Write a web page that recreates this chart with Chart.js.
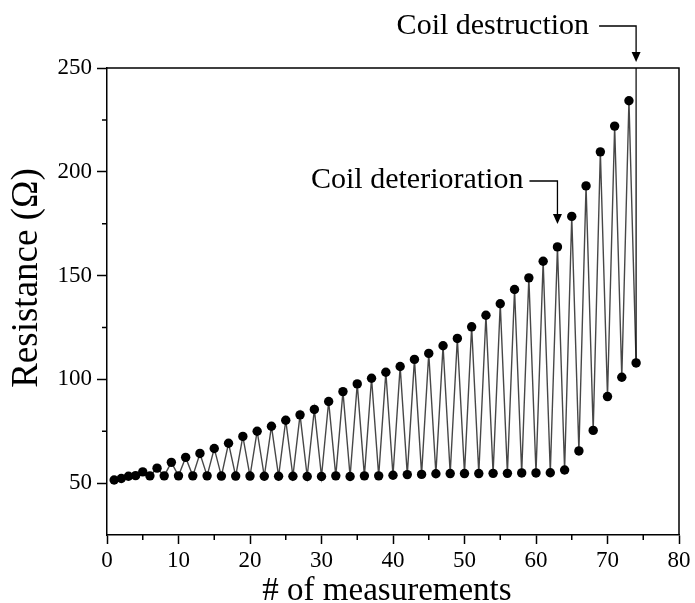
<!DOCTYPE html>
<html>
<head>
<meta charset="utf-8">
<script src="https://cdn.jsdelivr.net/npm/chart.js@4.4.0/dist/chart.umd.min.js"></script>
<style>
  html, body { margin: 0; padding: 0; background: #fff; }
  #wrap { width: 695px; height: 603px; }
</style>
</head>
<body>
<div id="wrap"><canvas id="resChart" width="695" height="603"></canvas></div>
<script>
const measurementNo = [
  1, 2, 3, 4, 5, 6, 7, 8, 9, 10, 11, 12, 13, 14, 15, 16, 17, 18, 19, 20,
  21, 22, 23, 24, 25, 26, 27, 28, 29, 30, 31, 32, 33, 34, 35, 36, 37, 38, 39, 40,
  41, 42, 43, 44, 45, 46, 47, 48, 49, 50, 51, 52, 53, 54, 55, 56, 57, 58, 59, 60,
  61, 62, 63, 64, 65, 66, 67, 68, 69, 70, 71, 72, 73, 74
];
const resistanceOhm = [
  51.5, 52.2, 53.3, 53.6, 55.4, 53.5, 57.2, 53.5, 60.0, 53.5,
  62.4, 53.5, 64.3, 53.5, 66.7, 53.4, 69.2, 53.4, 72.5, 53.4,
  75.0, 53.3, 77.4, 53.3, 80.3, 53.3, 82.9, 53.2, 85.5, 53.2,
  89.3, 53.5, 94.1, 53.2, 97.8, 53.5, 100.5, 53.5, 103.4, 53.8,
  106.2, 54.1, 109.6, 54.2, 112.5, 54.5, 116.2, 54.6, 119.7, 54.6,
  125.3, 54.6, 130.9, 54.7, 136.4, 54.7, 143.3, 54.9, 148.9, 54.9,
  156.9, 55.0, 163.8, 56.3, 178.5, 65.5, 193.2, 75.4, 209.6, 91.7,
  222.0, 101.0, 234.2, 107.9
];
// open circuit after destruction: trace leaves the top of the plot
const breakX = [74, 74];
const breakY = [107.9, 300];

const xTicks = [0, 10, 20, 30, 40, 50, 60, 70, 80];
const yTicks = [50, 100, 150, 200, 250];
const xMinor = [5, 15, 25, 35, 45, 55, 65, 75];
const yMinor = [75, 125, 175, 225];

const serif = "'Liberation Serif', 'Times New Roman', serif";

const figureExtras = {
  id: "figureExtras",
  afterDraw(chart) {
    const { ctx, chartArea: a, scales } = chart;
    const xs = scales.x, ys = scales.y;
    ctx.save();
    ctx.strokeStyle = "#000";
    ctx.fillStyle = "#000";
    ctx.lineWidth = 1.5;

    // frame top + right
    ctx.beginPath();
    ctx.moveTo(a.left, a.top);
    ctx.lineTo(a.right, a.top);
    ctx.lineTo(a.right, a.bottom);
    ctx.stroke();

    // minor ticks
    ctx.beginPath();
    xMinor.forEach(v => {
      const px = xs.getPixelForValue(v);
      ctx.moveTo(px, a.bottom);
      ctx.lineTo(px, a.bottom + 5);
    });
    yMinor.forEach(v => {
      const py = ys.getPixelForValue(v);
      ctx.moveTo(a.left, py);
      ctx.lineTo(a.left - 5, py);
    });
    ctx.stroke();

    // axis titles
    ctx.font = "33px " + serif;
    ctx.textAlign = "center";
    ctx.textBaseline = "alphabetic";
    ctx.fillText("# of measurements", (a.left + a.right) / 2 - 6, 600);

    ctx.save();
    ctx.translate(37, 278);
    ctx.rotate(-Math.PI / 2);
    ctx.font = "37px " + serif;
    ctx.fillText("Resistance (\u03A9)", 0, 0);
    ctx.restore();

    // annotations
    const arrow = (ax, lineY, tipY, textRight, baseY, label, gap) => {
      ctx.font = "30px " + serif;
      ctx.textAlign = "right";
      ctx.fillText(label, textRight, baseY);
      ctx.lineWidth = 1.3;
      ctx.beginPath();
      ctx.moveTo(textRight + gap, lineY);
      ctx.lineTo(ax, lineY);
      ctx.lineTo(ax, tipY - 9);
      ctx.stroke();
      ctx.beginPath();
      ctx.moveTo(ax - 4.5, tipY - 10);
      ctx.lineTo(ax + 4.5, tipY - 10);
      ctx.lineTo(ax, tipY);
      ctx.closePath();
      ctx.fill();
    };
    const dx = xs.getPixelForValue(74);
    arrow(dx, 26, 62, dx - 47, 34, "Coil destruction", 10);
    const tx = xs.getPixelForValue(63);
    arrow(tx, 181, 224, tx - 34, 188, "Coil deterioration", 6);

    ctx.restore();
  }
};

const points = measurementNo.map((x, i) => ({ x, y: resistanceOhm[i] }));
const breakLine = breakX.map((x, i) => ({ x, y: breakY[i] }));

new Chart(document.getElementById("resChart"), {
  type: "scatter",
  data: {
    datasets: [
      {
        data: points,
        showLine: true,
        borderColor: "rgba(0,0,0,0.72)",
        borderWidth: 1.4,
        pointRadius: 4.7,
        pointBackgroundColor: "#000",
        pointBorderWidth: 0,
        pointHoverRadius: 4.7,
      },
      {
        data: breakLine,
        showLine: true,
        borderColor: "#000",
        borderWidth: 1.2,
        pointRadius: 0,
      },
    ],
  },
  options: {
    responsive: false,
    animation: false,
    devicePixelRatio: 1,
    layout: { padding: { top: 68, right: 16, left: 0, bottom: 0 } },
    plugins: { legend: { display: false }, tooltip: { enabled: false } },
    scales: {
      x: {
        type: "linear",
        min: 0,
        max: 80,
        afterBuildTicks: (s) => { s.ticks = xTicks.map((v) => ({ value: v })); },
        afterFit: (s) => { s.height = 68; },
        grid: { drawOnChartArea: false, tickLength: 9, tickWidth: 1.5, tickColor: "#000" },
        border: { color: "#000", width: 1.5 },
        ticks: { color: "#000", font: { family: serif, size: 23 }, padding: 3, maxRotation: 0 },
      },
      y: {
        min: 25,
        max: 250,
        afterBuildTicks: (s) => { s.ticks = yTicks.map((v) => ({ value: v })); },
        afterFit: (s) => { s.width = 107; },
        grid: { drawOnChartArea: false, tickLength: 10, tickWidth: 1.5, tickColor: "#000" },
        border: { color: "#000", width: 1.5 },
        ticks: { color: "#000", font: { family: serif, size: 23 }, padding: 5 },
      },
    },
  },
  plugins: [figureExtras],
});
</script>
</body>
</html>
